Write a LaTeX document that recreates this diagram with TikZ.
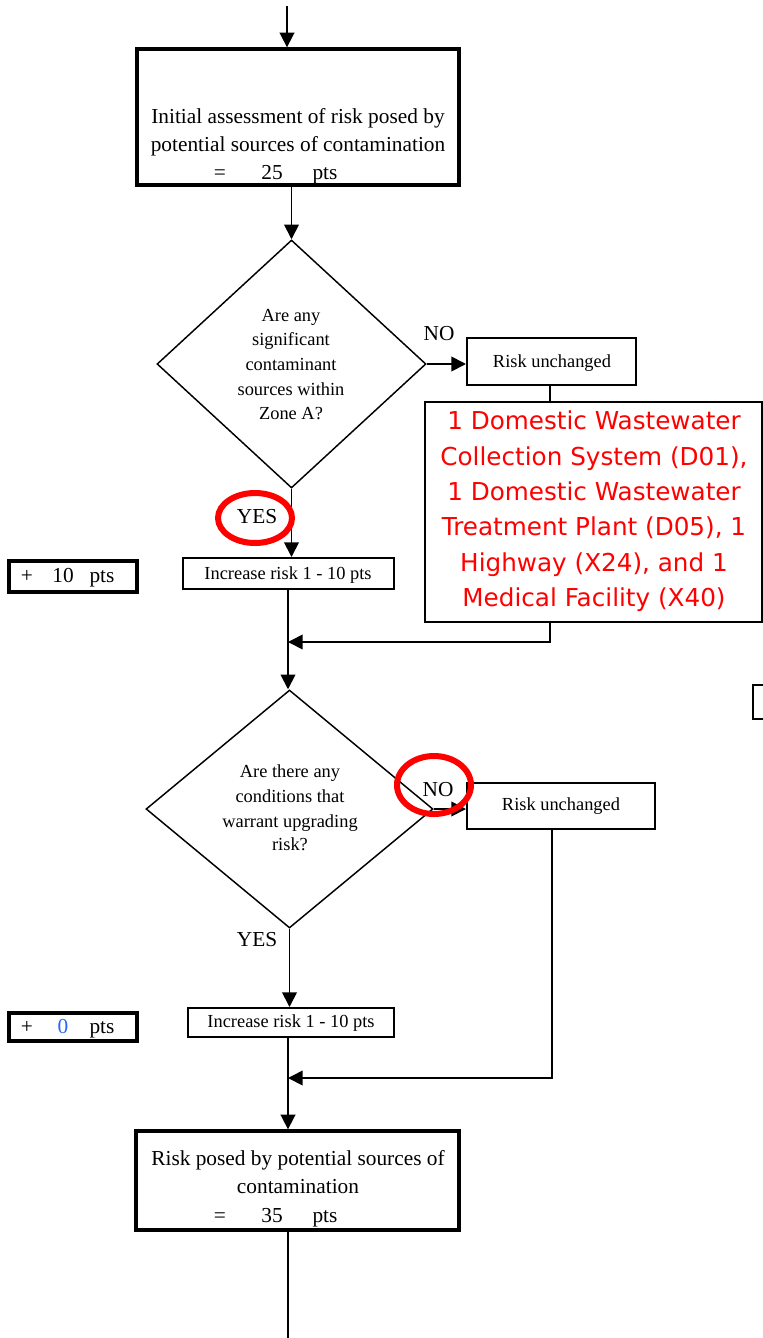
\documentclass[tikz,border=0pt]{standalone}
\usepackage{fontspec}
\setmainfont{Liberation Serif}
\newfontfamily\redfont{DejaVu Sans}
\usetikzlibrary{arrows.meta,shapes.geometric}
\tikzset{
  big/.style={font=\fontsize{16}{21}\selectfont, inner sep=0pt, anchor=base},
  small/.style={font=\fontsize{13.8}{18}\selectfont, inner sep=0pt, anchor=base},
  redtxt/.style={font=\redfont\fontsize{18.5}{26}\selectfont, text=red, inner sep=0pt, anchor=base},
  thickbox/.style={draw, line width=2.5pt, inner sep=0pt},
  thinbox/.style={draw, line width=1.5pt, inner sep=0pt},
  dia/.style={draw, diamond, line width=1.1pt, inner sep=0pt},
  conn/.style={line width=1.3pt},
  arr/.style={line width=1.3pt, -{Triangle[length=11pt,width=11pt]}},
  ring/.style={draw=red, ellipse, line width=4.5pt, inner sep=0pt}
}
\begin{document}
\begin{tikzpicture}[x=0.75pt,y=-0.75pt]
\useasboundingbox (0,0) rectangle (763,1338);

% top box
\coordinate (start) at (287,6);
\node[thickbox, minimum width=241.5pt, minimum height=102pt] (box1) at (298,117) {};
\node[big] (t1a) at (298,123) {Initial assessment of risk posed by};
\node[big] (t1b) at (298,151) {potential sources of contamination};
\node[big] (t1c) at (220,179) {=};
\node[big] (t1d) at (272,179) {25};
\node[big] (t1e) at (325,179) {pts};

% diamond 1
\node[dia, minimum width=201.75pt, minimum height=186pt] (d1) at (291.5,364) {};
\node[small] (d1a) at (291,321) {Are any};
\node[small] (d1b) at (291,345) {significant};
\node[small] (d1c) at (291,370) {contaminant};
\node[small] (d1d) at (291,395) {sources within};
\node[small] (d1e) at (291,419) {Zone A?};
\node[big] (no1) at (439,340) {NO};

% risk unchanged 1
\node[thinbox, minimum width=126.75pt, minimum height=35.25pt] (ru1) at (551.5,361.5) {};
\node[small] (ru1t) at (552,367) {Risk unchanged};

% red box
\node[thinbox, minimum width=252.75pt, minimum height=165pt] (red) at (593.5,512) {};
\node[redtxt] (r1) at (594,429) {1 Domestic Wastewater};
\node[redtxt] (r2) at (594,465) {Collection System (D01),};
\node[redtxt] (r3) at (594,500) {1 Domestic Wastewater};
\node[redtxt] (r4) at (594,535) {Treatment Plant (D05), 1};
\node[redtxt] (r5) at (594,571) {Highway (X24), and 1};
\node[redtxt] (r6) at (594,606) {Medical Facility (X40)};

% YES 1
\node[big] (yes1) at (257,523) {YES};

% increase 1
\node[thinbox, minimum width=158.25pt, minimum height=23.25pt] (inc1) at (288.5,573.5) {};
\node[small] (inc1t) at (288,579) {Increase risk 1 - 10 pts};

% + 10 pts
\node[thickbox, minimum width=96pt, minimum height=23.25pt] (p1) at (73,576.5) {};
\node[big] (p1a) at (27,582) {+};
\node[big] (p1b) at (63,582) {10};
\node[big] (p1c) at (102,582) {pts};

% partial box at right edge
\node[thinbox, minimum width=30pt, minimum height=25.5pt, anchor=north west] (edge) at (752,684) {};

% diamond 2
\node[dia, minimum width=215.25pt, minimum height=178.5pt] (d2) at (289.5,809) {};
\node[small] (d2a) at (290,777) {Are there any};
\node[small] (d2b) at (290,802) {conditions that};
\node[small] (d2c) at (290,827) {warrant upgrading};
\node[small] (d2d) at (290,850) {risk?};
\node[big] (no2) at (438,796) {NO};

% risk unchanged 2
\node[thinbox, minimum width=141pt, minimum height=34.5pt] (ru2) at (561,806) {};
\node[small] (ru2t) at (561,810) {Risk unchanged};

% YES 2
\node[big] (yes2) at (257,946) {YES};

% increase 2
\node[thinbox, minimum width=154.5pt, minimum height=21.75pt] (inc2) at (291,1022.5) {};
\node[small] (inc2t) at (291,1027) {Increase risk 1 - 10 pts};

% + 0 pts
\node[thickbox, minimum width=96pt, minimum height=21pt] (p2) at (73,1027) {};
\node[big] (p2a) at (27,1033) {+};
\node[big, text={rgb,255:red,40;green,100;blue,255}] (p2b) at (63,1033) {0};
\node[big] (p2c) at (102,1033) {pts};

% final box
\node[thickbox, minimum width=242.25pt, minimum height=74.25pt] (fin) at (297.5,1180.5) {};
\node[big] (f1) at (298,1165) {Risk posed by potential sources of};
\node[big] (f2) at (298,1193) {contamination};
\node[big] (f3) at (220,1222) {=};
\node[big] (f4) at (272,1222) {35};
\node[big] (f5) at (325,1222) {pts};

% connectors
\coordinate (m1) at (288,642);
\coordinate (m2) at (288,1078);
\coordinate (c1) at (550,622);
\coordinate (c2) at (552,829);
\coordinate (end) at (288,1340);

\draw[arr] (start) -- (start |- box1.north);
\draw[arr] (d1.north |- box1.south) -- (d1.north);
\draw[arr] (d1.east) -- (d1.east -| ru1.west);
\draw[conn] (c1 |- ru1.south) -- (c1 |- red.north);
\draw[arr] (d1.south) -- (d1.south |- inc1.north);
\draw[arr] (m1 |- inc1.south) -- (m1 |- d2.north);
\draw[arr] (c1) -- (c1 |- m1) -- (m1);
\draw[arr] (d2.east) -- (d2.east -| ru2.west);
\draw[arr] (d2.south) -- (d2.south |- inc2.north);
\draw[arr] (c2) -- (c2 |- m2) -- (m2);
\draw[arr] (m2 |- inc2.south) -- (m2 |- fin.north);
\draw[conn] (m2 |- fin.south) -- (end);

% red rings
\node[ring, minimum width=55.5pt, minimum height=37.5pt] (ring1) at (255,518) {};
\node[ring, minimum width=55.5pt, minimum height=43.5pt] (ring2) at (434,785) {};
\end{tikzpicture}
\end{document}
